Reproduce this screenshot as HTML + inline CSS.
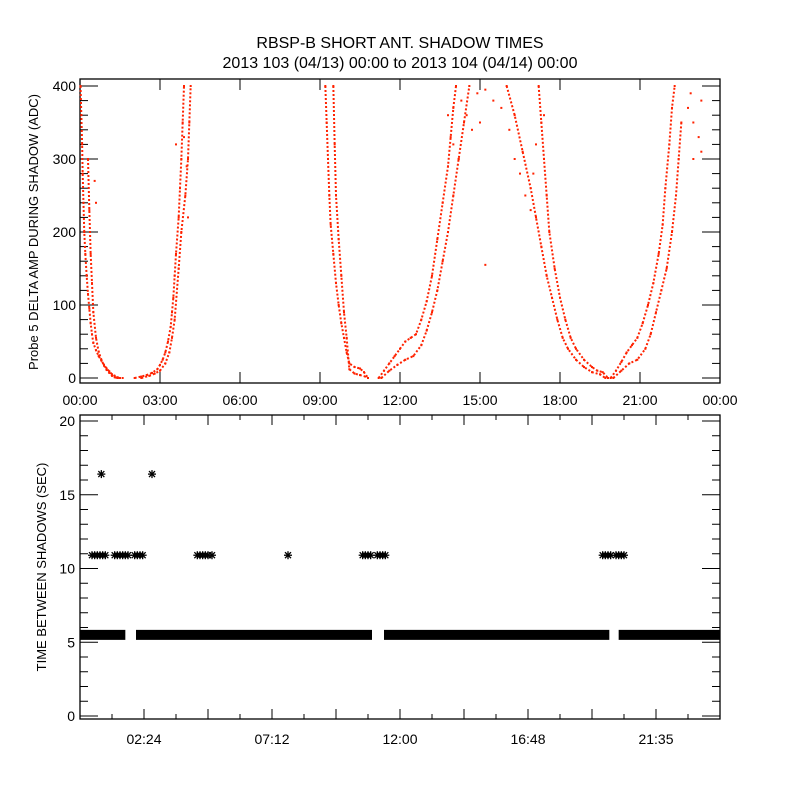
<!DOCTYPE html>
<html><head><meta charset="utf-8"><style>
body{margin:0;background:#fff}
svg{display:block}
text{font-family:"Liberation Sans",sans-serif;fill:#000}
</style></head><body>
<svg id="c" width="800" height="800" xmlns="http://www.w3.org/2000/svg">
<rect width="800" height="800" fill="#fff"/>
<text x="400" y="48" font-size="16" text-anchor="middle">RBSP-B SHORT ANT. SHADOW TIMES</text>
<text x="400" y="68" font-size="16" text-anchor="middle">2013 103 (04/13) 00:00 to 2013 104 (04/14) 00:00</text>
<g id="topPanel"></g>
<g id="botPanel"></g>
</svg>
<script>
// ---- top panel data: [hour, amplitude ADC]
const branch1A=[[0.02,400],[0.05,360],[0.08,320],[0.1,280],[0.13,240],[0.16,200],[0.2,170],[0.25,140],[0.3,115],[0.35,95],[0.4,75],[0.45,60],[0.5,48],[0.6,38],[0.7,30],[0.8,24],[0.9,18],[1.0,13],[1.1,9],[1.2,5],[1.3,3],[1.4,1],[1.5,0]];
const branch1B=[[0.3,300],[0.35,230],[0.4,170],[0.45,130],[0.5,90],[0.6,55],[0.7,36],[0.8,25],[0.9,17],[1.0,11],[1.1,7],[1.2,3],[1.3,1],[1.4,0],[1.6,0]];
const branch2A=[[2.05,0],[2.3,2],[2.5,4],[2.7,7],[2.9,12],[3.0,18],[3.1,25],[3.2,35],[3.3,50],[3.4,70],[3.45,90],[3.5,110],[3.55,140],[3.6,170],[3.7,220],[3.75,260],[3.8,300],[3.85,350],[3.9,400]];
const branch2B=[[2.3,0],[2.6,3],[2.8,6],[3.0,10],[3.2,20],[3.35,35],[3.45,55],[3.55,80],[3.7,150],[3.8,200],[3.95,250],[4.05,300],[4.1,350],[4.15,400]];
const branch3A=[[9.2,400],[9.25,350],[9.3,300],[9.35,250],[9.4,210],[9.5,170],[9.6,130],[9.7,100],[9.8,75],[9.9,55],[10.0,35],[10.1,20],[10.3,15],[10.5,13],[10.65,8],[10.8,0]];
const branch3B=[[9.5,400],[9.55,320],[9.6,250],[9.7,190],[9.8,140],[9.9,90],[10.0,55],[10.1,12],[10.3,6],[10.5,4],[10.7,2]];
const branch4A=[[11.2,0],[11.4,10],[11.6,20],[11.8,30],[12.0,40],[12.2,50],[12.4,55],[12.6,60],[12.8,80],[13.0,105],[13.2,140],[13.4,190],[13.6,240],[13.8,290],[13.9,330],[14.0,370],[14.1,400]];
const branch4B=[[11.3,0],[11.6,10],[11.9,18],[12.2,25],[12.5,30],[12.8,45],[13.0,65],[13.2,90],[13.4,120],[13.6,160],[13.8,200],[14.0,250],[14.2,300],[14.4,350],[14.6,400]];
const branch5A=[[16.0,400],[16.3,360],[16.6,310],[16.9,260],[17.1,220],[17.3,180],[17.5,140],[17.7,110],[17.9,80],[18.1,55],[18.3,40],[18.6,25],[18.9,15],[19.2,8],[19.5,5],[19.7,0]];
const branch5B=[[17.2,400],[17.3,350],[17.4,300],[17.5,250],[17.6,200],[17.8,150],[18.0,110],[18.2,80],[18.4,55],[18.6,40],[18.9,25],[19.2,15],[19.4,10],[19.6,8],[19.8,0]];
const branch6A=[[19.9,0],[20.1,10],[20.3,22],[20.5,35],[20.7,45],[20.9,55],[21.1,75],[21.3,100],[21.5,130],[21.7,170],[21.85,210],[21.95,260],[22.1,320],[22.2,370],[22.3,400]];
const branch6B=[[20.0,0],[20.3,10],[20.6,20],[20.9,25],[21.2,40],[21.4,60],[21.6,90],[21.8,120],[22.0,150],[22.2,200],[22.35,250],[22.45,300],[22.55,350]];
const scatterPts=[[0.55,270],[0.6,240],[14.3,380],[14.5,360],[14.7,340],[14.9,390],[15.2,395],[15.5,380],[15.8,370],[16.1,340],[16.3,300],[16.5,280],[16.7,250],[16.9,230],[17.0,280],[17.1,320],[17.4,360],[15.2,155],[15.0,350],[13.8,360],[14.0,320],[14.2,300],[22.9,390],[23.0,350],[23.2,330],[23.3,380],[23.3,310],[23.0,300],[22.8,370],[3.9,330],[4.0,290],[4.05,220],[3.6,320]];
const topBranches=[branch1A,branch1B,branch2A,branch2B,branch3A,branch3B,branch4A,branch4B,branch5A,branch5B,branch6A,branch6B];
const topYTicks=[0,100,200,300,400];
const topXLabels=["00:00","03:00","06:00","09:00","12:00","15:00","18:00","21:00","00:00"];

// ---- bottom panel data
const bandValue=5.5;
const bandSegments=[[0,1.7],[2.1,10.95],[11.4,19.85],[20.2,24]];
const marker11Times=[0.45,0.55,0.65,0.75,0.85,0.95,1.3,1.4,1.5,1.6,1.7,1.8,2.05,2.15,2.25,2.35,4.4,4.5,4.6,4.7,4.8,4.95,7.8,10.6,10.7,10.8,10.9,11.15,11.25,11.35,11.45,19.6,19.7,19.8,19.9,20.1,20.2,20.3,20.4];
const marker11Value=10.9;
const marker16Times=[0.8,2.7];
const marker16Value=16.4;
const botYTicks=[0,5,10,15,20];
const botXLabels=["02:24","07:12","12:00","16:48","21:35"];
const botXLabelHours=[2.4,7.2,12,16.8,21.6];

const NS="http://www.w3.org/2000/svg";
function mk(tag,attrs,parent){const e=document.createElementNS(NS,tag);for(const k in attrs)e.setAttribute(k,attrs[k]);parent.appendChild(e);return e;}
const L=80,R=720;
const xs=h=>L+h*(R-L)/24;
const tyS=v=>378-v*(378-86)/400;
const byS=v=>716-v*(716-421)/20;
const topG=document.getElementById('topPanel'),botG=document.getElementById('botPanel');

// top frame
let f=mk('rect',{x:L,y:79,width:R-L,height:304,fill:'none',stroke:'#000','stroke-width':1.3},topG);


for(let v=0;v<=400;v+=20){const len=v%100===0?18:8;const y=tyS(v);
 mk('line',{x1:L,y1:y,x2:L+len,y2:y,stroke:'#000'},topG);mk('line',{x1:R,y1:y,x2:R-len,y2:y,stroke:'#000'},topG);}
topYTicks.forEach(v=>{const t=mk('text',{x:L-4,y:tyS(v)+5,'font-size':14,'text-anchor':'end'},topG);t.textContent=v;
 
 });
topXLabels.forEach((s,i)=>{const x=xs(i*3);
 mk('line',{x1:x,y1:383,x2:x,y2:372,stroke:'#000'},topG);mk('line',{x1:x,y1:79,x2:x,y2:90,stroke:'#000'},topG);
 const t=mk('text',{x:x,y:405,'font-size':14,'text-anchor':'middle'},topG);t.textContent=s;
 
 });
let yt=mk('text',{x:0,y:0,'font-size':13,'text-anchor':'middle',transform:'translate(38,232) rotate(-90)'},topG);
yt.textContent='Probe 5 DELTA AMP DURING SHADOW (ADC)';


topBranches.forEach(b=>{
 const pl=mk('polyline',{points:b.map(p=>xs(p[0])+','+tyS(p[1])).join(' '),fill:'none',stroke:'#ff2200','stroke-width':2,'stroke-dasharray':'2 2'},topG);
 
 
 b.forEach(p=>{const r=mk('rect',{x:xs(p[0])-1,y:tyS(p[1])-1,width:2,height:2,fill:'#ff2200'},topG);
  
  });
});
scatterPts.forEach(p=>{const r=mk('rect',{x:xs(p[0])-1,y:tyS(p[1])-1,width:2,height:2,fill:'#ff2200'},topG);
 
 });

// bottom frame
f=mk('rect',{x:L,y:415,width:R-L,height:304,fill:'none',stroke:'#000','stroke-width':1.3},botG);


for(let v=0;v<=20;v+=1){const len=v%5===0?18:8;const y=byS(v);
 mk('line',{x1:L,y1:y,x2:L+len,y2:y,stroke:'#000'},botG);mk('line',{x1:R,y1:y,x2:R-len,y2:y,stroke:'#000'},botG);}
botYTicks.forEach(v=>{const t=mk('text',{x:L-5,y:byS(v)+5,'font-size':14,'text-anchor':'end'},botG);t.textContent=v;
 
 });
for(let h=1.2;h<24;h+=1.2){const x=xs(h);const len=Math.round(h/1.2)%2===0?10:5;
 mk('line',{x1:x,y1:719,x2:x,y2:719-len,stroke:'#000'},botG);mk('line',{x1:x,y1:415,x2:x,y2:415+len,stroke:'#000'},botG);}
botXLabels.forEach((s,i)=>{const t=mk('text',{x:xs(botXLabelHours[i]),y:744,'font-size':14,'text-anchor':'middle'},botG);t.textContent=s;
 
 });
yt=mk('text',{x:0,y:0,'font-size':13,'text-anchor':'middle',transform:'translate(46,567) rotate(-90)'},botG);
yt.textContent='TIME BETWEEN SHADOWS (SEC)';


bandSegments.forEach(s=>{const y=byS(bandValue);
 const r=mk('rect',{x:xs(s[0]),y:y-5,width:xs(s[1])-xs(s[0]),height:10,fill:'#000'},botG);
 
 });
function star(h,v){const cx=xs(h),cy=byS(v);const g=mk('g',{stroke:'#000','stroke-width':1.3},botG);
 
 
 mk('line',{x1:cx-4,y1:cy,x2:cx+4,y2:cy},g);mk('line',{x1:cx,y1:cy-4,x2:cx,y2:cy+4},g);
 mk('line',{x1:cx-3,y1:cy-3,x2:cx+3,y2:cy+3},g);mk('line',{x1:cx-3,y1:cy+3,x2:cx+3,y2:cy-3},g);}
marker11Times.forEach(h=>star(h,marker11Value));
marker16Times.forEach(h=>star(h,marker16Value));
</script>
</body></html>
